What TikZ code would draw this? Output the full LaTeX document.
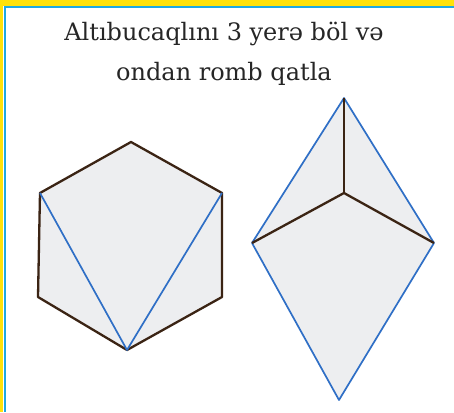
\documentclass[tikz,border=0pt]{standalone}
\usepackage{fontspec}
\setmainfont{DejaVu Serif}
\usetikzlibrary{positioning}
\definecolor{frameyellow}{HTML}{FFE20A}
\definecolor{frameblue}{HTML}{1FA9E1}
\definecolor{shapefill}{HTML}{EDEEF0}
\definecolor{edgebrown}{HTML}{3B2414}
\definecolor{cutblue}{HTML}{2F6FC6}
\begin{document}
\begin{tikzpicture}[x=1pt, y=-1pt,
  title/.style={align=center, font=\fontsize{24}{40}\selectfont, text=black!85, inner sep=0pt},
  piece/.style={fill=shapefill, draw=none},
  edge/.style={draw=edgebrown, line width=2.3pt, line join=round},
  cut/.style={draw=cutblue, line width=1.7pt, line join=round}
]
\useasboundingbox (0,0) rectangle (454,412);
% frame
\fill[white] (0,0) rectangle (454,412);
\fill[frameyellow] (0,0) rectangle (454,6);
\fill[frameyellow] (0,0) rectangle (3,412);
\fill[frameblue] (3.5,6.5) rectangle (454,8.5);
\fill[frameblue] (3.5,6.5) rectangle (5.5,412);
% title
\node[title] (head) at (224,54) {Altıbucaqlını 3 yerə böl və\\ondan romb qatla};
% hexagon
\coordinate (ht) at (131,142);
\coordinate (hur) at (222,193);
\coordinate (hlr) at (222,297);
\coordinate (hb) at (127,350);
\coordinate (hll) at (38,297);
\coordinate (hul) at (40,193);
\fill[piece] (ht) -- (hur) -- (hlr) -- (hb) -- (hll) -- (hul) -- cycle;
\draw[edge] (ht) -- (hur) -- (hlr) -- (hb) -- (hll) -- (hul) -- cycle;
\draw[cut] (hul) -- (hb) -- (hur);
% rhombus
\coordinate (rt) at (344,98);
\coordinate (rl) at (252,243);
\coordinate (rr) at (434,243);
\coordinate (rb) at (339,400);
\coordinate (rc) at (344,193);
\fill[piece] (rt) -- (rr) -- (rb) -- (rl) -- cycle;
\draw[cut] (rt) -- (rr) -- (rb) -- (rl) -- cycle;
\draw[edge] (rt) -- (rc);
\draw[edge] (rl) -- (rc) -- (rr);
\end{tikzpicture}
\end{document}
